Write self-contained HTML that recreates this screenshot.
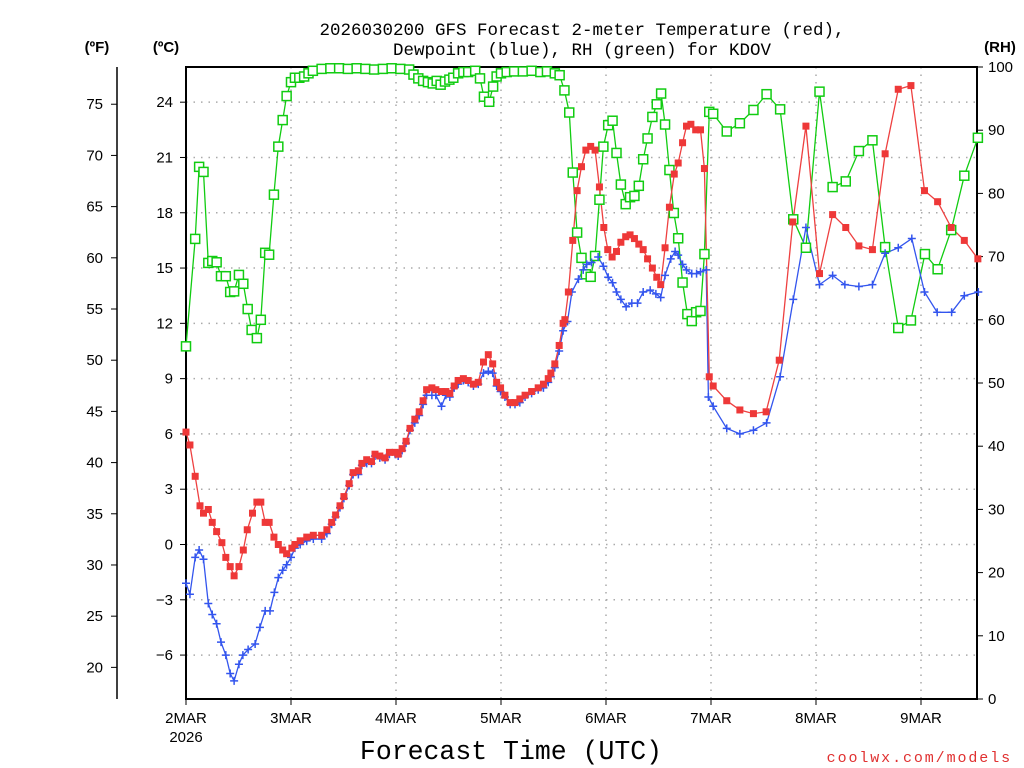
<!DOCTYPE html>
<html><head><meta charset="utf-8">
<style>
html,body{margin:0;padding:0;background:#fff;}
svg{display:block;font-family:"Liberation Sans",sans-serif;}
.mono{font-family:"Liberation Mono",monospace;}
</style></head>
<body>
<svg id="chart" width="1024" height="768" viewBox="0 0 1024 768" xmlns="http://www.w3.org/2000/svg">
<rect width="1024" height="768" fill="#fff"/>
<text class="mono" x="582" y="35" font-size="17.5" text-anchor="middle">2026030200 GFS Forecast 2-meter Temperature (red),</text>
<text class="mono" x="582" y="55" font-size="17.5" text-anchor="middle">Dewpoint (blue), RH (green) for KDOV</text>
<text x="97" y="52" font-size="15" font-weight="bold" text-anchor="middle">(ºF)</text>
<text x="166" y="52" font-size="15" font-weight="bold" text-anchor="middle">(ºC)</text>
<text x="1000" y="52" font-size="15" font-weight="bold" text-anchor="middle">(RH)</text>
<text class="mono" x="511" y="759" font-size="26.5" text-anchor="middle">Forecast Time (UTC)</text>
<text class="mono" x="1012" y="762" font-size="15" fill="#e03030" text-anchor="end" letter-spacing="1.9">coolwx.com/models</text>
<text x="186" y="742" font-size="15" text-anchor="middle">2026</text>
<g id="grid"></g><g id="axes"></g><g id="series"></g>
</svg>
<script>
const dayLabels=["2MAR","3MAR","4MAR","5MAR","6MAR","7MAR","8MAR","9MAR"];
const cTicks=[-6,-3,0,3,6,9,12,15,18,21,24];
const fTicks=[20,25,30,35,40,45,50,55,60,65,70,75];
const rhTicks=[0,10,20,30,40,50,60,70,80,90,100];

const tempHours=[0,0.9,2.1,3.2,4,5.1,6,7,8.2,9.1,10.1,11,12.1,13.1,14,15.2,16.2,17.1,18.1,19,20.1,21.1,22.1,23,24.2,24.9,26.1,27.6,29.1,31,32.2,33.3,34.2,35.2,36.1,37.3,38.2,39.4,40.2,41.3,42.4,43.2,44.3,45.5,46.5,47.8,48.5,49.4,50.3,51.2,52.3,53.3,54.2,55,56.2,57.1,58.4,59.4,60.3,61.3,62.2,63.4,64.5,65.7,66.8,68,69.1,70.1,71,71.9,72.9,74.1,75.2,76.3,77.5,79,80.5,81.7,82.8,83.4,84.3,85.3,86.2,86.6,87.4,88.4,89.4,90.4,91.4,92.5,93.5,94.5,95.5,96.4,97.4,98.4,99.4,100.5,101.5,102.5,103.5,104.5,105.5,106.6,107.6,108.5,109.5,110.5,111.6,112.5,113.5,114.4,115.4,116.5,117.6,118.5,119.6,120.5,123.6,126.6,129.7,132.6,135.6,138.7,141.7,144.8,147.8,150.8,153.8,156.9,159.8,162.8,165.7,168.8,171.8,174.9,177.9,181];
const tempC=[6.1,5.4,3.7,2.1,1.7,1.9,1.2,0.7,0.1,-0.7,-1.2,-1.7,-1.2,-0.3,0.8,1.7,2.3,2.3,1.2,1.2,0.4,0,-0.3,-0.5,-0.2,0,0.2,0.4,0.5,0.5,0.8,1.2,1.6,2.1,2.6,3.3,3.9,4,4.4,4.6,4.5,4.9,4.8,4.7,5,5,4.9,5.2,5.6,6.3,6.8,7.2,7.8,8.4,8.5,8.4,8.3,8.3,8.2,8.6,8.9,9,8.9,8.7,8.8,9.9,10.3,9.8,8.8,8.5,8.1,7.7,7.7,7.9,8.1,8.3,8.5,8.7,9,9.3,9.8,10.8,12,12.2,13.7,16.5,19.2,20.5,21.4,21.6,21.4,19.4,17.2,16,15.6,15.9,16.4,16.7,16.8,16.6,16.3,16,15.5,15,14.5,14.1,16.1,18.3,20.1,20.7,21.8,22.7,22.8,22.5,22.5,20.4,9.1,8.6,7.8,7.3,7.1,7.2,10,17.5,22.7,14.7,17.9,17.2,16.2,16,21.2,24.7,24.9,19.2,18.6,17.2,16.5,15.5];

const dewHours=[0,0.9,2.1,3,4,5.1,6,7,8,9.1,10.1,11,12.1,13,14.2,15.8,16.9,18.1,19.2,20.2,21.1,22.1,23,24,24.9,26.1,27.6,29.1,31,32.2,33.3,34.2,35.2,36.1,37.3,38.2,39.4,40.2,41.3,42.4,43.2,44.3,45.5,46.5,47.8,48.5,49.4,50.3,51.2,52.3,53.3,54.2,55,56.2,57.1,58.4,59.4,60.3,61.3,62.2,63.4,64.5,65.7,66.8,68,69.1,70.1,71,71.9,72.9,74.1,75.2,76.3,77.5,79,80.5,81.7,82.8,83.4,84.3,85.3,86.2,87.2,88.2,89.7,90.8,91.6,92.7,94.2,95.4,96.5,97.5,98.4,99.4,100.6,101.9,103.2,104.5,106.1,107.4,108.5,109.5,110.8,111.8,112.5,113.5,114.4,115.6,116.7,117.6,118.9,119.4,120.5,123.6,126.6,129.7,132.7,135.8,138.8,141.7,144.8,147.8,150.6,153.8,156.9,159.8,162.8,165.9,168.8,171.7,175,177.9,181.1];
const dewC=[-2.1,-2.7,-0.7,-0.3,-0.8,-3.2,-3.8,-4.3,-5.3,-6,-7,-7.4,-6.5,-6,-5.7,-5.4,-4.5,-3.6,-3.6,-2.6,-1.8,-1.4,-1.1,-0.7,-0.2,0,0.2,0.3,0.3,0.6,1.1,1.5,2,2.5,3.2,3.8,3.8,4.3,4.4,4.4,4.8,4.7,4.6,4.9,4.9,4.8,5.1,5.5,6.2,6.6,7,7.6,8.1,8.1,8.1,7.5,8.1,8,8.5,8.7,8.9,8.8,8.6,8.7,9.3,9.4,9.3,8.6,8.3,8,7.6,7.6,7.7,8,8.2,8.4,8.5,8.8,9.1,9.6,10.5,11.6,12.1,13.7,14.4,14.9,15.2,15.3,15.6,15.1,14.5,14.2,13.7,13.3,12.9,13.1,13.1,13.7,13.8,13.6,13.4,14.6,15.5,15.9,15.7,15.2,14.9,14.7,14.7,14.8,14.9,8,7.5,6.3,6,6.2,6.6,9.1,13.3,17.2,14.1,14.6,14.1,14,14.1,15.8,16.1,16.6,13.7,12.6,12.6,13.5,13.7];

const rhHours=[0,2.1,3,4,5.1,6,7,8,9.1,10.1,11,12.1,13.1,14.1,15,16.2,17.1,18.1,19,20.1,21.1,22.1,23,24,24.9,25.9,27,28,29,31,33,35,37,39,41,43,45,47,49,51,52,53.1,54.2,55.3,56.4,57.3,58.2,59.2,60.2,61.1,62.2,63.4,64.5,66.1,67.2,68.1,69.3,70.2,71,72,73.3,75,77,79,81,82.5,84.3,85.4,86.5,87.6,88.4,89.4,90.4,91.4,92.5,93.5,94.5,95.4,96.5,97.5,98.4,99.4,100.5,101.5,102.5,103.5,104.5,105.5,106.6,107.6,108.6,109.5,110.5,111.5,112.5,113.5,114.6,115.6,116.6,117.6,118.5,119.6,120.5,123.6,126.6,129.7,132.7,135.8,138.8,141.7,144.8,147.8,150.8,153.8,156.9,159.8,162.8,165.7,168.9,171.8,174.9,177.9,181];
const rhVals=[55.8,72.8,84.2,83.4,69,69.3,69.1,66.9,66.9,64.4,64.5,67.1,65.7,61.7,58.4,57.1,60,70.6,70.3,79.8,87.4,91.6,95.4,97.6,98.3,98.3,98.5,99,99.4,99.7,99.8,99.8,99.7,99.8,99.7,99.6,99.7,99.8,99.7,99.6,98.8,98.2,97.8,97.6,97.4,97.8,97.2,97.7,98,98.3,99,99.2,99.2,99.4,98.2,95.3,94.5,96.9,98.5,99,99.2,99.3,99.3,99.4,99.2,99.3,99,98.7,96.3,92.8,83.3,73.8,69.8,67.2,66.8,70.1,79,87.4,90.8,91.5,86.4,81.4,78.3,79.4,79.6,81.2,85.4,88.7,92.1,94.1,95.8,90.9,83.7,76.9,72.9,65.9,60.9,59.8,61.2,61.4,70.4,92.9,92.6,89.8,91.1,93.2,95.7,93.3,75.9,71.4,96.1,81,81.9,86.7,88.4,71.5,58.7,59.9,70.4,68,74.2,82.8,88.8];

const NS="http://www.w3.org/2000/svg";
const L=186,R=977,T=67,B=699,H0=0,H1=180.8;
const xs=h=>L+(h-H0)/(H1-H0)*(R-L);
const yc=c=>544.5-c*18.43;
const yf=f=>yc((f-32)*5/9);
const yr=r=>B-r/100*(B-T);
function mk(tag,attrs,parent){const e=document.createElementNS(NS,tag);for(const k in attrs)e.setAttribute(k,attrs[k]);parent.appendChild(e);return e;}
const grid=document.getElementById('grid'),axes=document.getElementById('axes'),ser=document.getElementById('series');

dayLabels.forEach((d,i)=>{
  const x=xs(i*24);
  if(i>0){const g=mk('line',{x1:x,x2:x,y1:T,y2:B,stroke:'#aaa','stroke-width':1.5,'stroke-dasharray':'1.5 6'},grid);
  
  }
  const t=mk('line',{x1:x,x2:x,y1:B,y2:B+6,stroke:'#000','stroke-width':1},axes);
  
  
  const lb=mk('text',{x:x,y:723,'font-size':15,'text-anchor':'middle'},axes);lb.textContent=d;
  
  
});
cTicks.forEach(c=>{
  const y=yc(c);
  const g=mk('line',{x1:L,x2:R,y1:y,y2:y,stroke:'#aaa','stroke-width':1.5,'stroke-dasharray':'1.5 6'},grid);
  
  
  const t=mk('line',{x1:L-6,x2:L,y1:y,y2:y,stroke:'#000'},axes);
  
  
  const lb=mk('text',{x:173,y:y+5,'font-size':15,'text-anchor':'end'},axes);lb.textContent=String(c).replace('-','\u2212');
  
  
});
fTicks.forEach(f=>{
  const y=yf(f);
  const t=mk('line',{x1:111,x2:117,y1:y,y2:y,stroke:'#000'},axes);
  
  
  const lb=mk('text',{x:103,y:y+5,'font-size':15,'text-anchor':'end'},axes);lb.textContent=f;
  
  
});
rhTicks.forEach(r=>{
  const y=yr(r);
  const t=mk('line',{x1:R,x2:R+6,y1:y,y2:y,stroke:'#000'},axes);
  
  
  const lb=mk('text',{x:988,y:y+5,'font-size':15,'text-anchor':'start'},axes);lb.textContent=r;
  
  
});
const fAx=mk('line',{x1:117,x2:117,y1:T,y2:B,stroke:'#000','stroke-width':1.5},axes);


const frame=mk('rect',{x:L,y:T,width:R-L,height:B-T,fill:'none',stroke:'#000','stroke-width':2},axes);



function line(hs,vs,yfn,color,name){
  const d=hs.map((h,i)=>(i?'L':'M')+xs(h).toFixed(1)+' '+yfn(vs[i]).toFixed(1)).join(' ');
  const p=mk('path',{d:d,fill:'none',stroke:color,'stroke-width':1.3},ser);
  
  
}
line(rhHours,rhVals,yr,'#11cc11','rh-line');
line(dewHours,dewC,yc,'#3355ee','dewpoint-line');
line(tempHours,tempC,yc,'#ee4040','temperature-line');
rhHours.forEach((h,i)=>{
  const m=mk('rect',{x:xs(h)-4.5,y:yr(rhVals[i])-4.5,width:9,height:9,fill:'#fff',stroke:'#11cc11','stroke-width':1.5},ser);
  
  
});
dewHours.forEach((h,i)=>{
  const x=xs(h),y=yc(dewC[i]);
  const m=mk('path',{d:`M${x-4} ${y}H${x+4}M${x} ${y-4}V${y+4}`,stroke:'#3355ee','stroke-width':1.5},ser);
  
  
});
tempHours.forEach((h,i)=>{
  const m=mk('rect',{x:xs(h)-3.5,y:yc(tempC[i])-3.5,width:7,height:7,fill:'#ee3838'},ser);
  
  
});
</script>
</body></html>
